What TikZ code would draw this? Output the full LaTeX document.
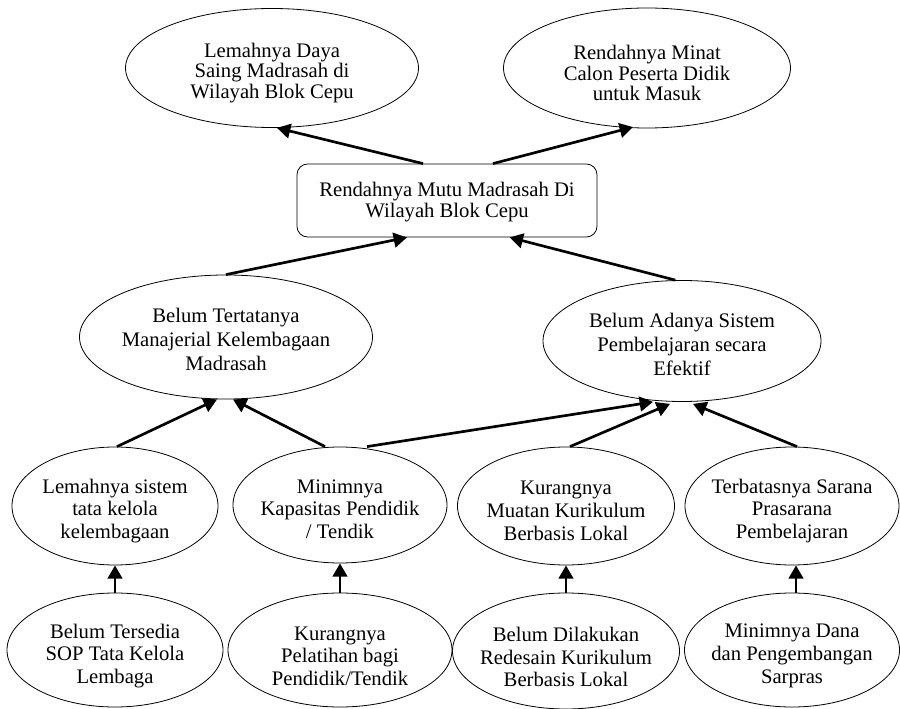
\documentclass[tikz,border=0pt]{standalone}
\usepackage{fontspec}
\setmainfont{Liberation Serif}
\usetikzlibrary{shapes.geometric,arrows.meta}
\begin{document}
\begin{tikzpicture}[x=0.75pt,y=-0.75pt,
  ell/.style 2 args={draw,ellipse,line width=0.6pt,minimum width=#1*0.75pt,minimum height=#2*0.75pt,inner sep=0pt},
  lbl/.style={align=center,inner sep=0pt,font=\fontsize{15.5pt}{#1}\selectfont},
  arr/.style={line width=2pt,-{Triangle[length=10pt,width=11pt]}}]
\useasboundingbox (0,0) rectangle (900,709);

% top level
\node[ell={293}{119}] (A) at (272,68) {};
\node[lbl=15.5pt] (At) at (272,73) {Lemahnya Daya\\Saing Madrasah di\\Wilayah Blok Cepu};
\node[ell={287}{120}] (B) at (647,68) {};
\node[lbl=15.5pt] (Bt) at (647,73) {Rendahnya Minat\\Calon Peserta Didik\\untuk Masuk};

% core problem
\node[draw,rounded corners=8pt,line width=0.6pt,minimum width=225pt,minimum height=54.75pt,inner sep=0pt] (R) at (447,200.5) {};
\node[lbl=16pt] (Rt) at (447,202) {Rendahnya Mutu Madrasah Di\\Wilayah Blok Cepu};

% middle level
\node[ell={293}{124}] (C) at (226,337) {};
\node[lbl=18pt] (Ct) at (226,339) {Belum Tertatanya\\Manajerial Kelembagaan\\Madrasah};
\node[ell={278}{121}] (D) at (682,341) {};
\node[lbl=18pt] (Dt) at (682,344) {Belum Adanya Sistem\\Pembelajaran secara\\Efektif};

% causes
\node[ell={206}{118}] (E1) at (115,506) {};
\node[lbl=17pt] (E1t) at (115,511) {Lemahnya sistem\\tata kelola\\kelembagaan};
\node[ell={214}{116}] (E2) at (340,505) {};
\node[lbl=17pt] (E2t) at (340,509) {Minimnya\\Kapasitas Pendidik\\/ Tendik};
\node[ell={217}{118}] (E3) at (566,506) {};
\node[lbl=17pt] (E3t) at (566,511) {Kurangnya\\Muatan Kurikulum\\Berbasis Lokal};
\node[ell={214}{118}] (E4) at (792,506) {};
\node[lbl=17pt] (E4t) at (792,511) {Terbatasnya Sarana\\Prasarana\\Pembelajaran};

% root causes
\node[ell={216}{114}] (F1) at (115,650) {};
\node[lbl=17pt] (F1t) at (115,656) {Belum Tersedia\\SOP Tata Kelola\\Lembaga};
\node[ell={224}{114}] (F2) at (340,650) {};
\node[lbl=17pt] (F2t) at (340,656) {Kurangnya\\Pelatihan bagi\\Pendidik/Tendik};
\node[ell={227}{116}] (F3) at (566,651) {};
\node[lbl=17pt] (F3t) at (566,657) {Belum Dilakukan\\Redesain Kurikulum\\Berbasis Lokal};
\node[ell={215}{114}] (F4) at (792,650) {};
\node[lbl=17pt] (F4t) at (792,656) {Minimnya Dana\\dan Pengembangan\\Sarpras};

% connectors
\draw[arr] ([xshift=-18pt]R.north) -- ([xshift=3.75pt]A.south);
\draw[arr] ([xshift=34.5pt]R.north) -- ([xshift=-10.5pt,yshift=1pt]B.south);
\draw[arr] (C.north) -- ([xshift=-30pt]R.south);
\draw[arr] ([xshift=-5pt]D.north) -- ([xshift=47pt]R.south);
\draw[arr] ([xshift=1.5pt]E1.north) -- ([xshift=-6.75pt]C.south);
\draw[arr] ([xshift=-11.25pt]E2.north) -- ([xshift=5.25pt]C.south);
\draw[arr] ([xshift=20.25pt]E2.north) -- ([xshift=-21.75pt]D.south);
\draw[arr] ([xshift=3pt]E3.north) -- ([xshift=-9pt,yshift=-1.5pt]D.south);
\draw[arr] ([xshift=3.75pt]E4.north) -- ([xshift=8.25pt,yshift=-1.5pt]D.south);
\draw[arr] (F1.north) -- (E1.south);
\draw[arr] (F2.north) -- (E2.south);
\draw[arr] (F3.north) -- (E3.south);
\draw[arr] ([xshift=3pt]F4.north) -- ([xshift=3pt]E4.south);
\end{tikzpicture}
\end{document}
